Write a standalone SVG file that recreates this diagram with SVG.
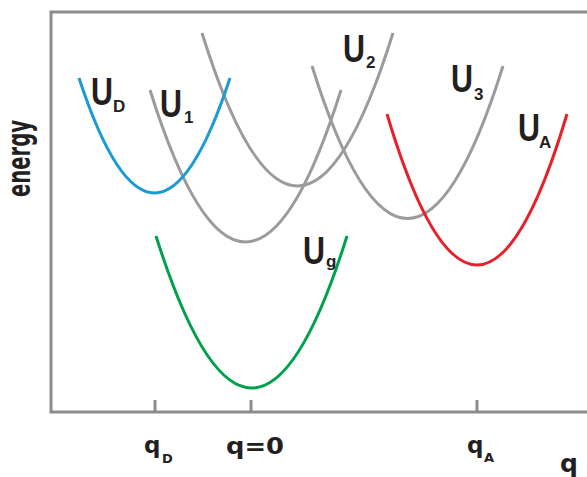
<svg xmlns="http://www.w3.org/2000/svg" width="587" height="477" viewBox="0 0 587 477">
<style>
.axis{fill:none;stroke:#8c8c8e;stroke-width:3}
.curve{fill:none;stroke-width:3}
.gray{stroke:#9b9b9d}
.blue{stroke:#1b9ad6}
.red{stroke:#e8202b}
.green{stroke:#00a14b}
.big{font-family:"Liberation Sans",Arial,sans-serif;font-weight:bold;font-size:38px;fill:#231f20}
.sub{font-family:"Liberation Sans",Arial,sans-serif;font-weight:bold;font-size:17px;fill:#231f20}
.ax{font-family:"DejaVu Sans",sans-serif;font-weight:bold;fill:#231f20}
</style>
<rect width="587" height="477" fill="#ffffff"/>
<g id="axes">
  <path class="axis" d="M587,12 H51 V412 H587"/>
  <path class="axis" d="M155,400 V412 M251,400 V412 M477,400 V412"/>
  <text class="ax" font-size="26" transform="translate(30,197) rotate(-90) scale(1,1.2)" textLength="77" lengthAdjust="spacingAndGlyphs">energy</text>
  <text class="ax" font-size="23" x="144" y="453">q</text>
  <text class="ax" font-size="13" x="162" y="463">D</text>
  <text class="ax" font-size="23" x="226" y="454" textLength="58" lengthAdjust="spacingAndGlyphs">q=0</text>
  <text class="ax" font-size="23" x="467" y="453">q</text>
  <text class="ax" font-size="13" x="484" y="462">A</text>
  <text class="ax" font-size="25" x="560" y="472">q</text>
</g>
<g id="U1">
  <path class="curve gray" d="M150,90 Q245.5,394 341,90"/>
  <text class="big" transform="translate(160,117) scale(0.8,1)">U</text>
  <text class="sub" x="184" y="123">1</text>
</g>
<g id="U2">
  <path class="curve gray" d="M202,33 Q297.5,339 393,33"/>
  <text class="big" transform="translate(343,62) scale(0.8,1)">U</text>
  <text class="sub" x="366" y="68">2</text>
</g>
<g id="U3">
  <path class="curve gray" d="M312,66 Q407.5,371 503,66"/>
  <text class="big" transform="translate(451,92) scale(0.8,1)">U</text>
  <text class="sub" x="474" y="100">3</text>
</g>
<g id="UD">
  <path class="curve blue" d="M79,78 Q154.5,308 230,78"/>
  <text class="big" transform="translate(91,105) scale(0.8,1)">U</text>
  <text class="sub" x="113" y="112">D</text>
</g>
<g id="UA">
  <path class="curve red" d="M387,114 Q477,416 567,114"/>
  <text class="big" transform="translate(518,141) scale(0.8,1)">U</text>
  <text class="sub" x="539" y="148">A</text>
</g>
<g id="Ug">
  <path class="curve green" d="M156,236 Q252,540 347,236"/>
  <text class="big" transform="translate(303,264) scale(0.8,1)">U</text>
  <text class="sub" font-size="20" x="326" y="267">g</text>
</g>
</svg>
